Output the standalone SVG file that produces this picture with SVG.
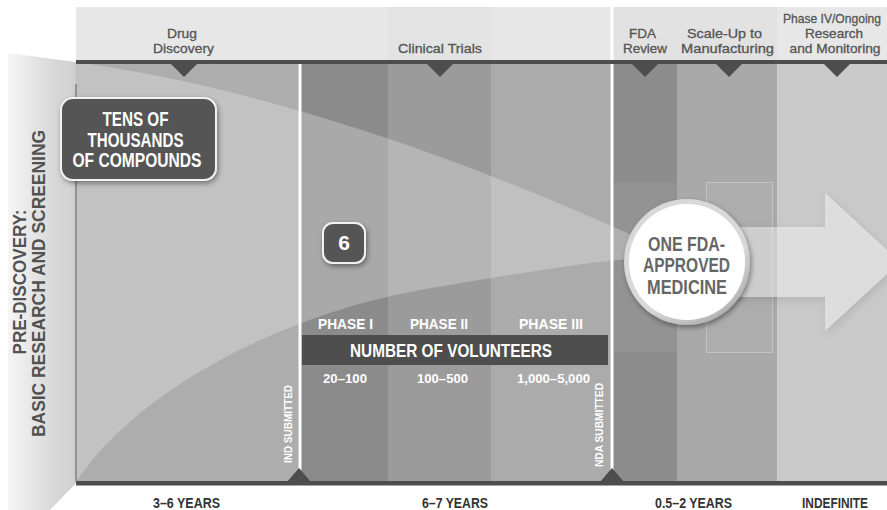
<svg xmlns="http://www.w3.org/2000/svg" width="887" height="510" viewBox="0 0 887 510">
<defs>
<style>
.hd{font-family:"Liberation Sans",Arial,sans-serif;font-size:13px;fill:#555;stroke:#555;stroke-width:0.3;text-anchor:middle}
.wb{font-family:"Liberation Sans",Arial,sans-serif;font-weight:bold;fill:#fff;text-anchor:middle}
.ct{font-family:"Liberation Sans",Arial,sans-serif;font-weight:bold;fill:#666;font-size:21px;text-anchor:middle}
.yr{font-family:"Liberation Sans",Arial,sans-serif;font-weight:bold;fill:#333;font-size:14px;text-anchor:middle}
.pd{font-family:"Liberation Sans",Arial,sans-serif;font-weight:bold;fill:#525252;font-size:19px;text-anchor:middle}
.tri{fill:#4d4d4d}
.box{fill:#555;stroke:#f2f2f2;stroke-width:2}
</style>
<linearGradient id="leftg" x1="8" y1="0" x2="76" y2="0" gradientUnits="userSpaceOnUse">
<stop offset="0" stop-color="#f6f6f6"/>
<stop offset="0.45" stop-color="#e2e2e2"/>
<stop offset="0.82" stop-color="#d2d2d2"/>
<stop offset="0.84" stop-color="#d6d6d6"/>
<stop offset="1" stop-color="#cdcdcd"/>
</linearGradient>
<radialGradient id="ring" cx="0.4" cy="0.35" r="0.7">
<stop offset="0.8" stop-color="#d8d8d8"/>
<stop offset="1" stop-color="#a8a8a8"/>
</radialGradient>
<filter id="sh" x="-20%" y="-20%" width="150%" height="150%">
<feDropShadow dx="1.5" dy="2.5" stdDeviation="2.5" flood-color="#000" flood-opacity="0.4"/>
</filter>
<filter id="sh2" x="-20%" y="-20%" width="150%" height="150%">
<feDropShadow dx="2" dy="3" stdDeviation="4" flood-color="#000" flood-opacity="0.25"/>
</filter>
</defs>

<rect width="887" height="510" fill="#fff"/>

<g id="background">
<path d="M8,53 L76,62 L76,483 L50,510 L8,510 Z" fill="url(#leftg)"/>
<rect x="76" y="7" width="811" height="53" fill="#e7e7e7"/>
<rect x="388" y="7" width="103" height="53" fill="#e3e3e3"/>
<rect x="613" y="7" width="164" height="53" fill="#e2e2e2"/>
<rect x="76" y="64" width="224" height="417" fill="#adadad"/>
<rect x="300" y="64" width="88" height="417" fill="#8b8b8b"/>
<rect x="388" y="64" width="103" height="417" fill="#9b9b9b"/>
<rect x="491" y="64" width="121" height="417" fill="#ababab"/>
<rect x="612" y="64" width="65" height="417" fill="#8d8d8d"/>
<rect x="677" y="64" width="100" height="417" fill="#a9a9a9"/>
<rect x="777" y="64" width="110" height="417" fill="#c9c9c9"/>
<rect x="613" y="183" width="64" height="169" fill="#fff" opacity="0.06"/>
<rect x="706.5" y="182.5" width="66" height="170" fill="#fff" fill-opacity="0.05" stroke="#c2c2c2" stroke-width="1"/>
<path d="M76,62 C265,88 470,160 660,248 L660,257 C620,258 560,266 420,290 C260,320 130,400 76,482 Z" fill="#fff" opacity="0.26"/>
<line x1="76" y1="84" x2="76" y2="481" stroke="#6e6e6e" stroke-width="1.2"/>
<rect x="298.5" y="64" width="3" height="406" fill="#fff"/>
<rect x="610.5" y="7" width="3" height="463" fill="#fff"/>
<rect x="76" y="60" width="811" height="4" fill="#4d4d4d"/>
<rect x="76" y="481" width="811" height="4.5" fill="#4d4d4d"/>
</g>

<g id="stage-markers">
<polygon class="tri" points="171,64 197,64 184,77"/>
<polygon class="tri" points="427,64 453,64 440,77"/>
<polygon class="tri" points="632,64 658,64 645,77"/>
<polygon class="tri" points="716,64 742,64 729,77"/>
<polygon class="tri" points="824,64 850,64 837,77"/>
<polygon class="tri" points="287,482 311,482 299,468"/>
<polygon class="tri" points="600,482 624,482 612,468"/>
</g>

<g id="header-labels">
<text class="hd" x="182" y="38" textLength="30" lengthAdjust="spacingAndGlyphs">Drug</text>
<text class="hd" x="183.5" y="53" textLength="61" lengthAdjust="spacingAndGlyphs">Discovery</text>
<text class="hd" x="440" y="53" textLength="84" lengthAdjust="spacingAndGlyphs">Clinical Trials</text>
<text class="hd" x="642.5" y="38" textLength="27" lengthAdjust="spacingAndGlyphs">FDA</text>
<text class="hd" x="645" y="53" textLength="44" lengthAdjust="spacingAndGlyphs">Review</text>
<text class="hd" x="724.5" y="38" textLength="75" lengthAdjust="spacingAndGlyphs">Scale-Up to</text>
<text class="hd" x="727.5" y="53" textLength="93" lengthAdjust="spacingAndGlyphs">Manufacturing</text>
<text class="hd" x="832" y="23" textLength="98" lengthAdjust="spacingAndGlyphs">Phase IV/Ongoing</text>
<text class="hd" x="834" y="38" textLength="58" lengthAdjust="spacingAndGlyphs">Research</text>
<text class="hd" x="835" y="53" textLength="91" lengthAdjust="spacingAndGlyphs">and Monitoring</text>
</g>

<g id="pre-discovery">
<text class="pd" transform="translate(26,282) rotate(-90)" textLength="145" lengthAdjust="spacingAndGlyphs">PRE-DISCOVERY:</text>
<text class="pd" transform="translate(45,283.5) rotate(-90)" textLength="307" lengthAdjust="spacingAndGlyphs">BASIC RESEARCH AND SCREENING</text>
</g>

<g id="connectors">
<polygon points="700,227 825,227 825,193 900,262 825,331 825,297 700,297" fill="#fff" fill-opacity="0.42" filter="url(#sh2)"/>
</g>

<g id="compounds">
<rect class="box" x="61" y="98" width="155" height="82" rx="12" filter="url(#sh)"/>
<text class="wb" x="135.5" y="126" font-size="20" textLength="66" lengthAdjust="spacingAndGlyphs">TENS OF</text>
<text class="wb" x="135.5" y="147" font-size="20" textLength="96" lengthAdjust="spacingAndGlyphs">THOUSANDS</text>
<text class="wb" x="137" y="167" font-size="20" textLength="129" lengthAdjust="spacingAndGlyphs">OF COMPOUNDS</text>
</g>

<g id="six">
<rect class="box" x="323" y="223" width="42" height="40" rx="10" filter="url(#sh)"/>
<text class="wb" x="344" y="250" font-size="21">6</text>
</g>

<g id="approved-medicine">
<circle cx="687" cy="262" r="63" fill="url(#ring)" filter="url(#sh)"/>
<circle cx="687" cy="262" r="58" fill="#fff"/>
<text class="ct" x="686.5" y="250.5" textLength="77" lengthAdjust="spacingAndGlyphs">ONE FDA-</text>
<text class="ct" x="686.5" y="272" textLength="87" lengthAdjust="spacingAndGlyphs">APPROVED</text>
<text class="ct" x="687" y="293.5" textLength="80" lengthAdjust="spacingAndGlyphs">MEDICINE</text>
</g>

<g id="volunteers">
<text class="wb" x="345.5" y="329" font-size="15" textLength="55" lengthAdjust="spacingAndGlyphs">PHASE I</text>
<text class="wb" x="439" y="329" font-size="15" textLength="58" lengthAdjust="spacingAndGlyphs">PHASE II</text>
<text class="wb" x="551" y="329" font-size="15" textLength="64" lengthAdjust="spacingAndGlyphs">PHASE III</text>
<rect x="302" y="335" width="306" height="30" fill="#4e4e4e"/>
<text class="wb" x="451" y="357" font-size="18" textLength="202" lengthAdjust="spacingAndGlyphs">NUMBER OF VOLUNTEERS</text>
<text class="wb" x="345" y="383" font-size="13.5" textLength="44" lengthAdjust="spacingAndGlyphs">20–100</text>
<text class="wb" x="442.5" y="383" font-size="13.5" textLength="51" lengthAdjust="spacingAndGlyphs">100–500</text>
<text class="wb" x="553.5" y="383" font-size="13.5" textLength="73" lengthAdjust="spacingAndGlyphs">1,000–5,000</text>
</g>

<g id="submissions">
<text class="wb" transform="translate(292,424) rotate(-90)" font-size="11.5" textLength="78" lengthAdjust="spacingAndGlyphs">IND SUBMITTED</text>
<text class="wb" transform="translate(603,425) rotate(-90)" font-size="11.5" textLength="84" lengthAdjust="spacingAndGlyphs">NDA SUBMITTED</text>
</g>

<g id="durations">
<text class="yr" x="186.5" y="508" textLength="67" lengthAdjust="spacingAndGlyphs">3–6 YEARS</text>
<text class="yr" x="455" y="508" textLength="66" lengthAdjust="spacingAndGlyphs">6–7 YEARS</text>
<text class="yr" x="693.5" y="508" textLength="77" lengthAdjust="spacingAndGlyphs">0.5–2 YEARS</text>
<text class="yr" x="835" y="508" textLength="66" lengthAdjust="spacingAndGlyphs">INDEFINITE</text>
</g>
</svg>
